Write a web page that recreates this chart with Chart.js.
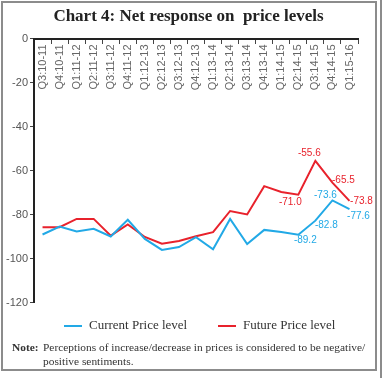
<!DOCTYPE html>
<html><head><meta charset="utf-8">
<script src="https://cdn.jsdelivr.net/npm/chart.js@4"></script>
<style>
html,body{margin:0;padding:0;background:#fff;}
#wrap{position:relative;width:383px;height:378px;overflow:hidden;background:#fff}
#frame{position:absolute;left:1px;top:1px;width:372px;height:366px;border:2px solid #8c8c8c;}
#edge{position:absolute;left:380px;top:0;width:2px;height:378px;background:#8c8c8c}
#c{position:absolute;left:0;top:0}
.note{position:absolute;font-family:"Liberation Serif",serif;font-size:11.4px;line-height:14px;color:#333;white-space:nowrap}
</style></head>
<body>
<div id="wrap">
  <canvas id="c" width="383" height="378"></canvas>
  <div id="frame"></div>
  <div id="edge"></div>
  <div class="note" style="left:12px;top:340px;font-weight:bold;">Note:</div>
  <div class="note" style="left:43px;top:340px;">Perceptions of increase/decrease in prices is considered to be negative/</div>
  <div class="note" style="left:43px;top:354px;">positive sentiments.</div>
</div>
<script>
const categories = ["Q3:10-11","Q4:10-11","Q1:11-12","Q2:11-12","Q3:11-12","Q4:11-12","Q1:12-13","Q2:12-13","Q3:12-13","Q4:12-13","Q1:13-14","Q2:13-14","Q3:13-14","Q4:13-14","Q1:14-15","Q2:14-15","Q3:14-15","Q4:14-15","Q1:15-16"];
const currentPrice = [-89.1,-85.5,-87.7,-86.5,-90.0,-82.4,-91.1,-96.1,-94.8,-90.3,-95.8,-82.0,-93.4,-87.0,-88.0,-89.2,-82.8,-73.6,-77.6];
const futurePrice  = [-85.8,-85.8,-82.0,-82.0,-89.6,-84.5,-90.2,-93.3,-92.0,-89.9,-88.0,-78.4,-80.0,-67.1,-69.8,-71.0,-55.6,-65.5,-73.8];
const yTickValues = [0,-20,-40,-60,-80,-100,-120];
const seriesNames = ["Current Price level","Future Price level"];
const chartTitle = "Chart 4: Net response on  price levels";
const labelledIndexes = [15,16,17,18];

const colors = ["#22a9e6","#e8222c"];
// label placement offsets (style) per dataset, aligned with labelledIndexes
const labelOffsets = [
  [[7,6],[11,5],[-7,-5],[9,7]],
  [[-8,8],[-6,-8],[11,-2],[12,0]]
];

const valueLabels = {
  id:'valueLabels',
  afterDatasetsDraw(chart){
    const ctx = chart.ctx;
    ctx.save();
    ctx.font = '10px "Liberation Sans", Arial, sans-serif';
    ctx.textAlign = 'center';
    ctx.textBaseline = 'middle';
    chart.data.datasets.forEach((ds, d) => {
      const meta = chart.getDatasetMeta(d);
      labelledIndexes.forEach((i, k) => {
        const pt = meta.data[i];
        const off = labelOffsets[d][k];
        ctx.fillStyle = ds.borderColor;
        ctx.fillText(ds.data[i].toFixed(1), pt.x + off[0], pt.y + off[1]);
      });
    });
    ctx.restore();
  }
};

const titleAndLegend = {
  id:'titleAndLegend',
  afterDraw(chart){
    const ctx = chart.ctx;
    ctx.save();
    // title
    ctx.font = 'bold 17px "Liberation Serif", serif';
    ctx.fillStyle = '#222';
    ctx.textAlign = 'center';
    ctx.textBaseline = 'middle';
    ctx.fillText(chartTitle, 188.5, 17);
    // legend
    const y = 326;
    const starts = [64, 218];
    ctx.font = '13px "Liberation Serif", serif';
    ctx.textAlign = 'left';
    chart.data.datasets.forEach((ds, d) => {
      const x = starts[d];
      ctx.strokeStyle = ds.borderColor;
      ctx.lineWidth = 2;
      ctx.beginPath();
      ctx.moveTo(x, y);
      ctx.lineTo(x + 18, y);
      ctx.stroke();
      ctx.fillStyle = '#333';
      ctx.fillText(ds.label, x + 25, y);
    });
    ctx.restore();
  }
};

new Chart(document.getElementById('c'), {
  type: 'line',
  data: {
    labels: categories,
    datasets: [
      {label: seriesNames[0], data: currentPrice, borderColor: colors[0], backgroundColor: colors[0], borderWidth: 2, pointRadius: 0, tension: 0, fill: false},
      {label: seriesNames[1], data: futurePrice, borderColor: colors[1], backgroundColor: colors[1], borderWidth: 2, pointRadius: 0, tension: 0, fill: false}
    ]
  },
  options: {
    responsive: false,
    devicePixelRatio: 1,
    animation: false,
    layout: {padding: {left: 0, right: 25, top: 38.5, bottom: 75.5}},
    plugins: {
      legend: {display: false},
      tooltip: {enabled: false},
      title: {display: false}
    },
    scales: {
      x: {
        type: 'category',
        position: {y: 0},
        offset: true,
        grid: {offset: true, drawOnChartArea: false, drawTicks: true, tickLength: 4, color: '#444', lineWidth: 1},
        border: {display: true, color: '#222', width: 2},
        ticks: {autoSkip: false, minRotation: 90, maxRotation: 90, padding: 2, color: '#666', font: {family: '"Liberation Sans", Arial, sans-serif', size: 11}}
      },
      y: {
        min: -120,
        max: 0,
        afterBuildTicks: (s) => { s.ticks = yTickValues.map(v => ({value: v})); },
        afterFit: (s) => { s.width = 34; },
        grid: {drawOnChartArea: false, drawTicks: true, tickLength: 4, color: '#444', lineWidth: 1},
        border: {display: true, color: '#222', width: 2},
        ticks: {padding: 2, color: '#555', font: {family: '"Liberation Sans", Arial, sans-serif', size: 11}, callback: (v) => String(v)}
      }
    }
  },
  plugins: [valueLabels, titleAndLegend]
});
</script>
</body></html>
